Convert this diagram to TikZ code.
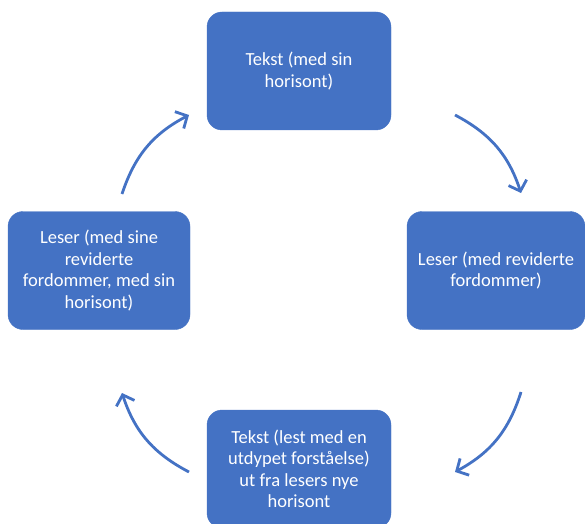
\documentclass[tikz,border=0pt]{standalone}
\usepackage{fontspec}
\setmainfont{Carlito}
\usepackage{xcolor}
\usepackage{tikz}
\usetikzlibrary{arrows.meta, positioning}

\definecolor{boxblue}{HTML}{4472C4}

\begin{document}
\begin{tikzpicture}[
    x=1pt, y=1pt,
    stage/.style={rectangle, rounded corners=15pt, draw=boxblue, fill=boxblue, text=white, minimum height=118pt, align=center, font=\fontsize{18.5}{21.5}\selectfont},
    cyclearrow/.style={-{Straight Barb[length=9pt, width=19pt]}, draw=boxblue, line width=2.8pt, bend left=22}
]
\useasboundingbox (0,0) rectangle (585,523);
\clip (0,0) rectangle (585,523);

% Stages
\node[stage, minimum width=184pt] (text1) at (299,452) {Tekst (med sin\\horisont)};
\node[stage, minimum width=178pt] (reader1) at (496,252.5) {Leser (med reviderte\\fordommer)};
\node[stage, minimum width=184pt] (text2) at (299,54) {Tekst (lest med en\\utdypet forståelse)\\ut fra lesers nye\\horisont};
\node[stage, minimum width=182pt] (reader2) at (99,252.5) {Leser (med sine\\reviderte\\fordommer, med sin\\horisont)};

% Arrow ends
\coordinate (a1) at (455,408);
\coordinate (b1) at (521,330);
\coordinate (a2) at (521,131);
\coordinate (b2) at (455,51);
\coordinate (a3) at (189,51);
\coordinate (b3) at (122,130);
\coordinate (a4) at (122,329);
\coordinate (b4) at (189,408);

% Connections
\draw[cyclearrow] (a1) to (b1);
\draw[cyclearrow] (a2) to (b2);
\draw[cyclearrow] (a3) to (b3);
\draw[cyclearrow] (a4) to (b4);

\end{tikzpicture}
\end{document}
